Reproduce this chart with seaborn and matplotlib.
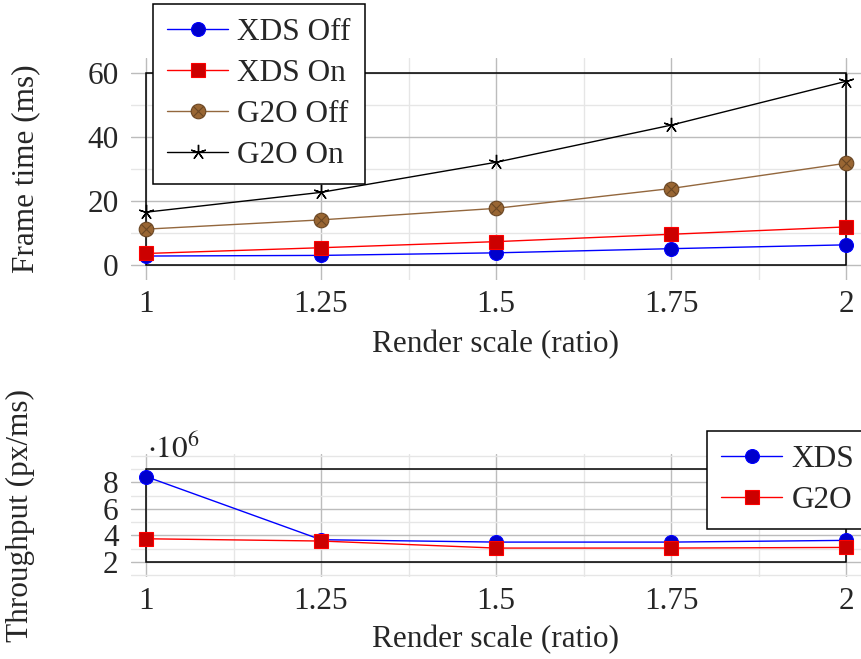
import numpy as np
import pandas as pd
import matplotlib
matplotlib.use("Agg")
import matplotlib.pyplot as plt
import seaborn as sns
from matplotlib.path import Path
from matplotlib.patches import Rectangle
from matplotlib.ticker import MultipleLocator

# ---------------- data ----------------
scales = [1, 1.25, 1.5, 1.75, 2]
x_ticklabels = ["1", "1.25", "1.5", "1.75", "2"]

# Frame time (ms)
xds_off = [2.8, 3.0, 3.8, 5.1, 6.3]
xds_on = [3.6, 5.4, 7.3, 9.6, 11.9]
g2o_off = [11.2, 14.1, 17.7, 23.9, 31.8]
g2o_on = [16.5, 22.7, 32.1, 43.7, 57.4]
frame_yticks = [0, 20, 40, 60]

# Throughput (px/ms)
thr_xds = [8.43e6, 3.68e6, 3.50e6, 3.50e6, 3.63e6]
thr_g2o = [3.75e6, 3.58e6, 3.05e6, 3.05e6, 3.10e6]
thr_yticks = [2, 4, 6, 8]          # in units of 10^6
thr_box_top = 9                    # in units of 10^6

# ---------------- style ----------------
sns.set_theme(style="white")
plt.rcParams["font.family"] = ["Liberation Serif", "DejaVu Serif"]
plt.rcParams["mathtext.fontset"] = "stix"
FS = 22.5

W, H = 861, 659
fig = plt.figure(figsize=(W / 100, H / 100), dpi=100)

def px_axes(left, top, right, bottom):
    return fig.add_axes([left / W, 1 - bottom / H, (right - left) / W, (bottom - top) / H])

ax1 = px_axes(131, 58, 861, 280)
ax2 = px_axes(131, 454, 861, 577)

# otimes marker: circle + cross
circ = Path.unit_circle()
d = np.sqrt(0.5)
otimes = Path(list(circ.vertices) + [(-d, -d), (d, d), (-d, d), (d, -d)],
              list(circ.codes) + [Path.MOVETO, Path.LINETO, Path.MOVETO, Path.LINETO])

styles = {
    "XDS Off": dict(color="#0000ff", marker="o", markersize=10, markerfacecolor="#0000cc",
                    markeredgecolor="#0000ff", markeredgewidth=0.8),
    "XDS On": dict(color="#ff0000", marker="s", markersize=9.5, markerfacecolor="#cc0000",
                   markeredgecolor="#ff0000", markeredgewidth=0.8),
    "G2O Off": dict(color="#93673d", marker=otimes, markersize=10.5, markerfacecolor="#996633",
                    markeredgecolor="#6b4724", markeredgewidth=0.8),
    "G2O On": dict(color="black", marker=(5, 2, 0), markersize=11, markerfacecolor="black",
                   markeredgecolor="black", markeredgewidth=1.0),
}

def style_axes(ax, xlo, xhi, ylo, yhi, yticks, yminor, box):
    ax.set_xlim(xlo, xhi)
    ax.set_ylim(ylo, yhi)
    ax.set_xticks(scales)
    ax.set_xticklabels(x_ticklabels)
    ax.set_yticks(yticks)
    ax.xaxis.set_minor_locator(MultipleLocator(0.125))
    ax.yaxis.set_minor_locator(MultipleLocator(yminor))
    ax.grid(True, which="major", color="#bcbcbc", lw=1.0, zorder=0)
    ax.grid(True, which="minor", color="#e6e6e6", lw=1.0, zorder=0)
    ax.set_axisbelow(True)
    for s in ax.spines.values():
        s.set_visible(False)
    ax.tick_params(axis="both", which="both", length=0, labelsize=FS)
    ax.tick_params(axis="x", pad=7)
    ax.tick_params(axis="y", pad=9)
    ax.set_facecolor("none")
    bx0, bx1, by0, by1 = box
    ax.add_patch(Rectangle((bx0, by0), bx1 - bx0, by1 - by0, fill=False,
                           ec="black", lw=1.1, zorder=1.5))

legend_kw = dict(borderaxespad=0, fontsize=FS, frameon=True, fancybox=False,
                 framealpha=1, edgecolor="black", handlelength=1.95,
                 handletextpad=0.3, borderpad=0.45, labelspacing=0.38)

# ---------------- top panel ----------------
df_top = pd.DataFrame({"scale": scales, "XDS Off": xds_off, "XDS On": xds_on,
                       "G2O Off": g2o_off, "G2O On": g2o_on})
for name in ["XDS Off", "XDS On", "G2O Off", "G2O On"]:
    sns.lineplot(data=df_top, x="scale", y=name, ax=ax1, label=name, lw=1.0,
                 clip_on=False, zorder=3, **styles[name])

span = scales[-1] - scales[0]
ext = 15 / 700 * span
fr_ext = 15 / 3.2
style_axes(ax1, scales[0] - ext, scales[-1] + ext,
           frame_yticks[0] - fr_ext, frame_yticks[-1] + fr_ext,
           frame_yticks, 10, (scales[0], scales[-1], frame_yticks[0], frame_yticks[-1]))
ax1.set_xlabel("Render scale (ratio)", fontsize=FS)
ax1.set_ylabel("Frame time (ms)", fontsize=FS)
ax1.xaxis.set_label_coords(0.5, -0.225)
ax1.yaxis.set_label_coords(-0.125, 0.5)

leg1 = ax1.legend(loc="upper left", bbox_to_anchor=(153 / W, 1 - 4 / H),
                  bbox_transform=fig.transFigure, **legend_kw)
leg1.get_frame().set_linewidth(1.1)
leg1.set_zorder(10)

# ---------------- bottom panel ----------------
df_bot = pd.DataFrame({"scale": scales,
                       "XDS": np.array(thr_xds) / 1e6,
                       "G2O": np.array(thr_g2o) / 1e6})
sns.lineplot(data=df_bot, x="scale", y="XDS", ax=ax2, label="XDS", lw=1.0,
             clip_on=False, zorder=3, **styles["XDS Off"])
sns.lineplot(data=df_bot, x="scale", y="G2O", ax=ax2, label="G2O", lw=1.0,
             clip_on=False, zorder=3, **styles["XDS On"])

th_ext = 15 / 13.33
style_axes(ax2, scales[0] - ext, scales[-1] + ext,
           thr_yticks[0] - th_ext, thr_box_top + th_ext,
           thr_yticks, 1, (scales[0], scales[-1], thr_yticks[0], thr_box_top))
ax2.set_xlabel("Render scale (ratio)", fontsize=FS)
ax2.set_ylabel("Throughput (px/ms)", fontsize=FS)
ax2.xaxis.set_label_coords(0.5, -0.39)
ax2.yaxis.set_label_coords(-0.132, 0.5)
ax2.text(0.022, 0.967, r"$\cdot10^{6}$", transform=ax2.transAxes, fontsize=FS,
         ha="left", va="baseline")

leg2 = ax2.legend(loc="upper left", bbox_to_anchor=(707 / W, 1 - 431 / H),
                  bbox_transform=fig.transFigure, **legend_kw)
leg2.get_frame().set_linewidth(1.1)
leg2.set_zorder(10)

fig.savefig("out.png", dpi=100)
